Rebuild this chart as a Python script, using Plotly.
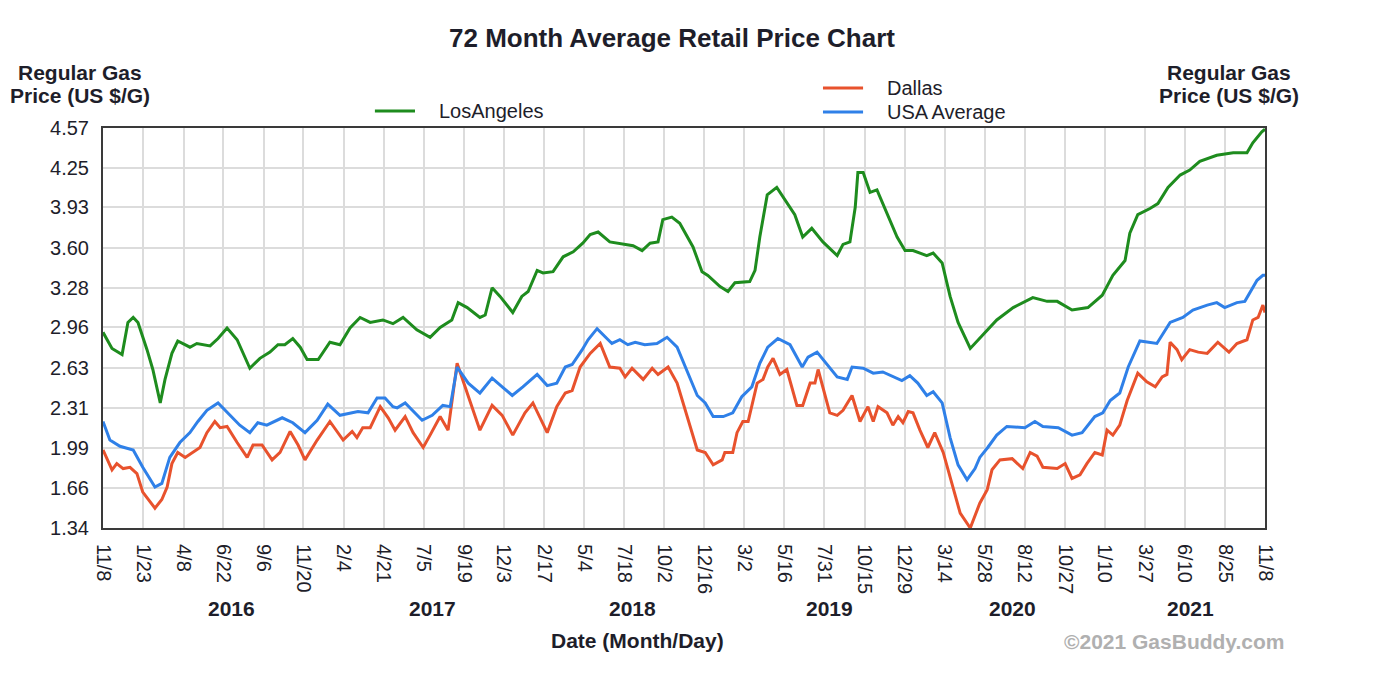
import pandas as pd
import plotly.graph_objects as go

START = pd.Timestamp("2015-11-08")

series_names = ["LosAngeles", "Dallas", "USA Average"]
series_colors = ["#1e8c1e", "#e8522d", "#2f80e8"]

# Days after 2015-11-08 and price (US $/G)
la_days = [0, 17, 36, 47, 57, 66, 83, 94, 108, 117, 130, 141, 164, 177, 202, 217, 234, 253, 277, 296,
           315, 330, 343, 358, 372, 385, 406, 428, 447, 466, 485, 504, 528, 547, 566, 592, 617, 636, 658, 670,
           687, 711, 721, 734, 749, 773, 790, 802, 819, 830, 849, 868, 887, 905, 919, 934, 956, 981, 1000, 1017,
           1032, 1047, 1056, 1073, 1088, 1113, 1130, 1141, 1164, 1179, 1192, 1220, 1230, 1239, 1253, 1271, 1283, 1305, 1320, 1337,
           1358, 1385, 1396, 1409, 1419, 1424, 1434, 1447, 1460, 1479, 1498, 1513, 1528, 1554, 1566, 1583, 1598, 1613, 1636, 1660,
           1686, 1717, 1754, 1781, 1800, 1828, 1858, 1885, 1905, 1928, 1937, 1952, 1975, 1990, 2009, 2032, 2050, 2069, 2101, 2132,
           2158, 2169, 2186, 2192]
la_price = [2.92, 2.79, 2.74, 3.00, 3.04, 3.00, 2.78, 2.62, 2.35, 2.54, 2.75, 2.85, 2.80, 2.83, 2.81, 2.87, 2.955, 2.86, 2.63, 2.71,
            2.76, 2.82, 2.82, 2.87, 2.80, 2.70, 2.70, 2.84, 2.82, 2.955, 3.04, 3.00, 3.02, 2.99, 3.04, 2.94, 2.88, 2.96, 3.02, 3.16,
            3.12, 3.04, 3.06, 3.28, 3.21, 3.08, 3.21, 3.25, 3.42, 3.40, 3.41, 3.53, 3.57, 3.64, 3.71, 3.73, 3.65, 3.63, 3.62, 3.58,
            3.64, 3.65, 3.83, 3.85, 3.80, 3.61, 3.41, 3.38, 3.29, 3.25, 3.32, 3.33, 3.42, 3.69, 4.03, 4.09, 4.01, 3.87, 3.69, 3.76,
            3.65, 3.54, 3.63, 3.65, 3.93, 4.21, 4.21, 4.05, 4.07, 3.88, 3.69, 3.58, 3.58, 3.54, 3.56, 3.48, 3.21, 3.00, 2.79, 2.90,
            3.02, 3.12, 3.20, 3.17, 3.17, 3.10, 3.12, 3.22, 3.38, 3.50, 3.72, 3.87, 3.92, 3.96, 4.09, 4.19, 4.23, 4.30, 4.35, 4.37,
            4.37, 4.45, 4.54, 4.56]

dal_days = [0, 17, 26, 38, 51, 64, 75, 98, 111, 121, 130, 141, 155, 168, 183, 196, 211, 221, 234, 253,
            272, 283, 300, 319, 334, 353, 368, 381, 404, 428, 453, 470, 479, 490, 504, 523, 538, 551, 570, 585,
            604, 617, 636, 651, 668, 687, 711, 734, 753, 773, 796, 811, 838, 856, 872, 885, 900, 919, 938, 956,
            975, 985, 998, 1019, 1036, 1047, 1066, 1083, 1107, 1121, 1136, 1151, 1168, 1173, 1188, 1196, 1207, 1217, 1234, 1245,
            1254, 1264, 1277, 1290, 1309, 1320, 1334, 1343, 1349, 1371, 1385, 1396, 1413, 1428, 1443, 1453, 1462, 1479, 1490, 1500,
            1509, 1519, 1528, 1541, 1556, 1569, 1585, 1602, 1617, 1636, 1649, 1654, 1668, 1677, 1692, 1715, 1735, 1749, 1762, 1773,
            1800, 1815, 1828, 1843, 1856, 1871, 1885, 1894, 1905, 1918, 1932, 1952, 1969, 1985, 1998, 2007, 2013, 2026, 2035, 2050,
            2066, 2083, 2103, 2124, 2139, 2158, 2169, 2179, 2188, 2192]
dal_price = [1.97, 1.81, 1.86, 1.82, 1.83, 1.78, 1.63, 1.50, 1.57, 1.67, 1.86, 1.95, 1.91, 1.95, 1.99, 2.11, 2.20, 2.15, 2.16, 2.03,
             1.91, 2.01, 2.01, 1.89, 1.95, 2.12, 2.01, 1.89, 2.05, 2.20, 2.05, 2.12, 2.07, 2.15, 2.15, 2.32, 2.23, 2.13, 2.24, 2.11,
             1.99, 2.09, 2.24, 2.13, 2.67, 2.43, 2.13, 2.33, 2.25, 2.09, 2.27, 2.35, 2.11, 2.32, 2.43, 2.45, 2.64, 2.75, 2.83, 2.64,
             2.63, 2.56, 2.63, 2.54, 2.63, 2.58, 2.64, 2.51, 2.16, 1.97, 1.95, 1.85, 1.89, 1.95, 1.95, 2.11, 2.20, 2.20, 2.51, 2.54,
             2.64, 2.71, 2.58, 2.62, 2.33, 2.33, 2.51, 2.51, 2.62, 2.27, 2.25, 2.29, 2.41, 2.20, 2.32, 2.20, 2.32, 2.27, 2.17, 2.24,
             2.19, 2.28, 2.27, 2.13, 1.99, 2.11, 1.95, 1.70, 1.46, 1.34, 1.49, 1.54, 1.65, 1.81, 1.89, 1.90, 1.82, 1.95, 1.92, 1.83,
             1.82, 1.86, 1.74, 1.77, 1.86, 1.95, 1.93, 2.13, 2.09, 2.17, 2.37, 2.59, 2.52, 2.48, 2.56, 2.58, 2.84, 2.78, 2.70, 2.78,
             2.76, 2.75, 2.84, 2.76, 2.83, 2.86, 3.02, 3.04, 3.14, 3.08]

usa_days = [0, 13, 32, 57, 75, 98, 111, 126, 145, 164, 179, 196, 217, 240, 258, 277, 292, 309, 338, 358,
            381, 404, 424, 447, 472, 481, 500, 517, 532, 547, 555, 570, 602, 621, 641, 655, 668, 689, 711, 734,
            753, 772, 792, 819, 838, 856, 872, 885, 904, 915, 932, 960, 975, 990, 1004, 1022, 1045, 1064, 1083, 1104,
            1121, 1136, 1151, 1170, 1188, 1205, 1224, 1239, 1254, 1273, 1296, 1319, 1330, 1347, 1366, 1385, 1404, 1413, 1434, 1453,
            1471, 1490, 1507, 1522, 1537, 1554, 1566, 1583, 1598, 1613, 1630, 1645, 1654, 1669, 1686, 1705, 1739, 1758, 1773, 1802,
            1828, 1847, 1871, 1886, 1900, 1918, 1934, 1956, 1988, 2013, 2037, 2056, 2083, 2101, 2116, 2139, 2154, 2177, 2188, 2192]
usa_price = [2.20, 2.05, 2.00, 1.97, 1.83, 1.67, 1.70, 1.91, 2.03, 2.11, 2.20, 2.29, 2.35, 2.25, 2.17, 2.11, 2.19, 2.17, 2.23, 2.19,
             2.11, 2.21, 2.34, 2.25, 2.27, 2.28, 2.27, 2.39, 2.39, 2.32, 2.31, 2.35, 2.21, 2.25, 2.33, 2.32, 2.64, 2.51, 2.43, 2.55,
             2.48, 2.41, 2.48, 2.58, 2.49, 2.51, 2.64, 2.66, 2.78, 2.86, 2.95, 2.83, 2.86, 2.82, 2.84, 2.82, 2.83, 2.88, 2.80, 2.59,
             2.41, 2.35, 2.24, 2.24, 2.27, 2.40, 2.48, 2.67, 2.80, 2.87, 2.82, 2.64, 2.72, 2.76, 2.66, 2.56, 2.54, 2.64, 2.63, 2.59,
             2.60, 2.56, 2.53, 2.57, 2.51, 2.41, 2.44, 2.35, 2.07, 1.85, 1.73, 1.82, 1.91, 1.99, 2.09, 2.16, 2.15, 2.20, 2.16, 2.15,
             2.09, 2.11, 2.24, 2.27, 2.37, 2.43, 2.64, 2.85, 2.83, 3.00, 3.04, 3.10, 3.14, 3.16, 3.12, 3.16, 3.17, 3.34, 3.38, 3.38]

x_tick_labels = ["11/8", "1/23", "4/8", "6/22", "9/6", "11/20", "2/4", "4/21", "7/5", "9/19",
                 "12/3", "2/17", "5/4", "7/18", "10/2", "12/16", "3/2", "5/16", "7/31", "10/15",
                 "12/29", "3/14", "5/28", "8/12", "10/27", "1/10", "3/27", "6/10", "8/25", "11/8"]
x_tick_dates = ["2015-11-08", "2016-01-23", "2016-04-08", "2016-06-22", "2016-09-06", "2016-11-20",
                "2017-02-04", "2017-04-21", "2017-07-05", "2017-09-19", "2017-12-03", "2018-02-17",
                "2018-05-04", "2018-07-18", "2018-10-02", "2018-12-16", "2019-03-02", "2019-05-16",
                "2019-07-31", "2019-10-15", "2019-12-29", "2020-03-14", "2020-05-28", "2020-08-12",
                "2020-10-27", "2021-01-10", "2021-03-27", "2021-06-10", "2021-08-25", "2021-11-08"]
year_labels = ["2016", "2017", "2018", "2019", "2020", "2021"]
year_label_dates = ["2016-07-08", "2017-07-21", "2018-08-03", "2019-08-10", "2020-07-20", "2021-06-20"]

y_ticks = [1.34, 1.66, 1.99, 2.31, 2.63, 2.96, 3.28, 3.60, 3.93, 4.25, 4.57]
y_tick_text = ["%.2f" % v for v in y_ticks]
Y_RANGE = [1.34, 4.57]

FONT = "Liberation Sans, Arial, sans-serif"
TXT = "#1e1e2a"


def to_dates(days):
    return START + pd.to_timedelta(days, unit="D")


fig = go.Figure()
for name, color, d, p in [
    (series_names[0], series_colors[0], la_days, la_price),
    (series_names[1], series_colors[1], dal_days, dal_price),
    (series_names[2], series_colors[2], usa_days, usa_price),
]:
    fig.add_trace(go.Scatter(x=to_dates(d), y=p, mode="lines", name=name,
                             line=dict(color=color, width=3), showlegend=False))

axis_common = dict(showline=True, linecolor="#3a3a3a", linewidth=2, mirror=True,
                   gridcolor="#dcdcdc", gridwidth=2, zeroline=False, ticks="",
                   tickfont=dict(family=FONT, size=20, color=TXT))

# page body has an 8px margin, so the figure is sized to fill the rest of the window
fig.update_layout(
    width=1380, height=676,
    margin=dict(l=95, r=123, t=120, b=156),
    paper_bgcolor="white", plot_bgcolor="white",
    font=dict(family=FONT, color=TXT),
    xaxis=dict(range=[x_tick_dates[0], x_tick_dates[-1]], tickmode="array",
               tickvals=x_tick_dates, ticktext=x_tick_labels, tickangle=90,
               ticklabelstandoff=10, **axis_common),
    yaxis=dict(range=Y_RANGE, tickmode="array", tickvals=y_ticks, ticktext=y_tick_text,
               ticklabelstandoff=8, **axis_common),
    yaxis2=dict(range=Y_RANGE, tickmode="array", tickvals=y_ticks, ticktext=y_tick_text,
                overlaying="y", side="right", showgrid=False, zeroline=False, ticks="",
                ticklabelstandoff=8, tickfont=dict(family=FONT, size=20, color=TXT)),
)

ann = []
ann.append(dict(text="<b>72 Month Average Retail Price Chart</b>", x=0.4897, y=1.225, xref="paper", yref="paper",
                showarrow=False, font=dict(size=26, family=FONT, color=TXT), xanchor="center", yanchor="middle"))
for xp in (-0.0195, 0.969):
    ann.append(dict(text="<b>Regular Gas</b>", x=xp, y=1.14, xref="paper", yref="paper", showarrow=False,
                    font=dict(size=21, family=FONT, color=TXT), xanchor="center", yanchor="middle"))
    ann.append(dict(text="<b>Price (US $/G)</b>", x=xp, y=1.0825, xref="paper", yref="paper", showarrow=False,
                    font=dict(size=21, family=FONT, color=TXT), xanchor="center", yanchor="middle"))
for yl, yd in zip(year_labels, year_label_dates):
    ann.append(dict(text="<b>%s</b>" % yl, x=yd, y=-0.2, xref="x", yref="paper", showarrow=False,
                    font=dict(size=21, family=FONT, color=TXT), xanchor="center", yanchor="middle"))
ann.append(dict(text="<b>Date (Month/Day)</b>", x=0.4596, y=-0.28, xref="paper", yref="paper", showarrow=False,
                font=dict(size=21, family=FONT, color=TXT), xanchor="center", yanchor="middle"))
ann.append(dict(text="<b>©2021 GasBuddy.com</b>", x=1.0189, y=-0.283, xref="paper", yref="paper", showarrow=False,
                font=dict(size=21, family=FONT, color="#b0b0b0"), xanchor="right", yanchor="middle"))

# Legend (two groups)
legend_items = [(0, 0.234, 1.0425), (1, 0.6196, 1.1), (2, 0.6196, 1.04)]
shapes = []
for idx, lx, ly in legend_items:
    shapes.append(dict(type="line", xref="paper", yref="paper", x0=lx, x1=lx + 0.0345, y0=ly, y1=ly,
                       line=dict(color=series_colors[idx], width=3)))
    ann.append(dict(text=series_names[idx], x=lx + 0.0535, y=ly, xref="paper", yref="paper", showarrow=False,
                    font=dict(size=20, family=FONT, color=TXT), xanchor="left", yanchor="middle"))

fig.update_layout(annotations=ann, shapes=shapes)
fig.write_html("out.html")
